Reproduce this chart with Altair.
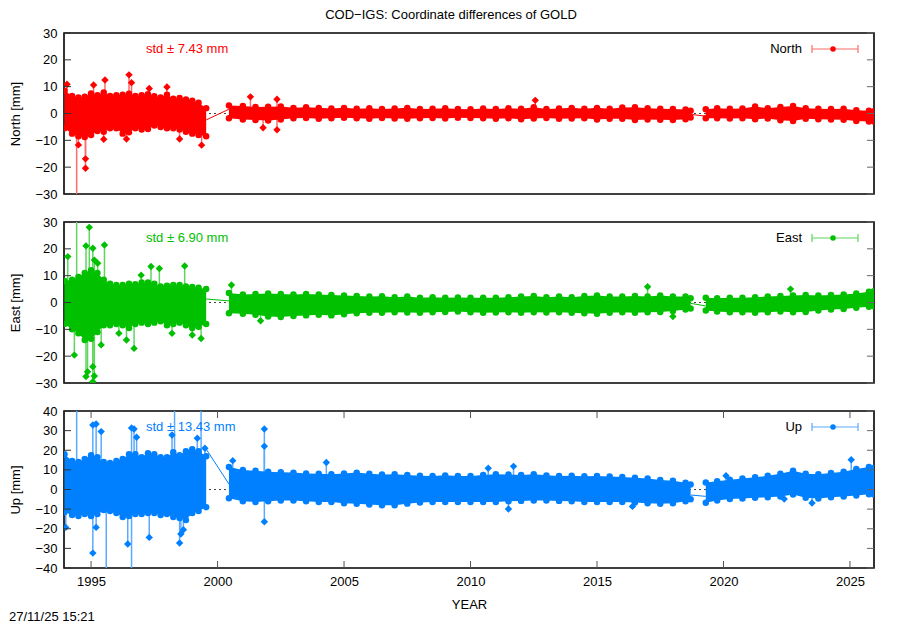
import altair as alt
import pandas as pd

FONT = "Liberation Sans"

# ---- time nodes of the dense data band (years) ----
YEARS = [1993.95, 1994.25, 1994.5, 1994.75, 1995.0, 1995.25, 1995.5, 1995.75, 1996.0, 1996.25,
         1996.5, 1996.75, 1997.0, 1997.25, 1997.5, 1997.75, 1998.0, 1998.25, 1998.5, 1998.75,
         1999.0, 1999.25, 1999.55,
         2000.45, 2001.0, 2001.5, 2002.0, 2002.5, 2003.0, 2003.5, 2004.0, 2004.5, 2005.0,
         2005.5, 2006.0, 2006.5, 2007.0, 2007.5, 2008.0, 2008.5, 2009.0, 2009.5, 2010.0,
         2010.5, 2011.0, 2011.5, 2012.0, 2012.5, 2013.0, 2013.5, 2014.0, 2014.5, 2015.0,
         2015.5, 2016.0, 2016.5, 2017.0, 2017.5, 2018.0, 2018.5, 2018.7,
         2019.3, 2019.75, 2020.25, 2020.75, 2021.25, 2021.75, 2022.25, 2022.75, 2023.25,
         2023.75, 2024.25, 2024.75, 2025.25, 2025.75, 2025.95]

# ---- North band (mm) ----
N_HI = [8.5, 6.5, 6.0, 6.2, 7.5, 6.8, 7.8, 6.5, 6.8, 7.0, 7.4, 6.5, 6.8, 7.2, 6.4, 6.0, 7.0, 5.5, 5.8, 5.2, 4.8, 4.0, 2.0,
        3.0, 2.8, 2.4, 2.5, 2.6, 2.1, 2.3, 2.1, 1.9, 2.1, 1.8, 2.0, 1.7, 1.9, 2.1, 1.7, 1.8, 2.0, 1.7, 1.6,
        1.9, 1.7, 2.0, 1.8, 2.3, 1.7, 1.9, 2.1, 1.8, 2.1, 1.8, 2.2, 2.3, 2.0, 1.8, 1.7, 1.5, 1.0,
        1.6, 2.0, 1.8, 1.9, 2.6, 2.0, 2.4, 2.8, 2.0, 1.8, 1.7, 1.8, 1.2, 1.0, 0.8]
N_LO = [-5.5, -7.5, -8.5, -8.8, -8.0, -6.5, -6.8, -5.5, -5.5, -7.5, -7.0, -5.5, -6.0, -5.8, -4.5, -5.0, -5.5, -5.5, -6.0, -6.8, -7.5, -8.0, -8.5,
        -1.8, -2.2, -2.4, -2.6, -2.2, -1.8, -1.7, -2.0, -1.8, -1.6, -1.8, -2.0, -1.7, -1.9, -2.0, -1.8, -1.7, -1.9, -1.6, -1.7,
        -1.8, -2.0, -1.8, -2.1, -1.9, -1.7, -2.0, -1.9, -1.8, -2.2, -2.0, -2.0, -2.4, -2.2, -2.3, -2.4, -2.1, -1.5,
        -1.8, -1.8, -1.9, -1.8, -2.1, -1.9, -2.5, -2.8, -2.0, -2.1, -2.2, -2.3, -2.8, -3.0, -3.0]

# ---- East band (mm) ----
E_HI = [8.0, 8.5, 9.5, 11.0, 12.0, 11.0, 8.5, 7.0, 6.5, 6.5, 7.0, 6.8, 7.5, 7.5, 7.0, 6.0, 6.2, 6.5, 6.5, 6.0, 5.8, 5.5, 5.0,
        3.5, 3.0, 3.2, 3.4, 3.2, 3.0, 3.2, 3.0, 2.8, 2.6, 2.4, 2.2, 2.3, 2.0, 2.2, 1.8, 2.0, 1.8, 1.9, 1.8,
        1.8, 1.8, 2.0, 2.2, 2.4, 2.0, 2.2, 2.0, 2.4, 2.6, 2.2, 2.2, 2.4, 2.2, 2.6, 2.2, 2.2, 1.6,
        1.8, 1.6, 1.8, 1.8, 2.0, 2.2, 2.4, 2.6, 2.8, 2.6, 2.8, 3.0, 3.4, 4.0, 4.2]
E_LO = [-8.0, -10.0, -11.5, -14.0, -13.5, -11.0, -8.5, -8.5, -8.0, -8.5, -9.5, -8.0, -7.5, -8.0, -7.5, -7.0, -8.5, -8.0, -7.5, -8.5, -9.5, -9.0, -8.0,
        -4.0, -4.2, -4.6, -5.2, -5.4, -5.0, -4.8, -4.6, -4.8, -4.4, -4.0, -3.8, -3.8, -3.6, -3.7, -3.8, -3.6, -3.5, -3.4, -3.6,
        -3.8, -3.7, -3.6, -3.8, -3.6, -3.7, -3.6, -3.8, -4.0, -4.2, -3.8, -3.6, -3.8, -3.6, -3.5, -3.2, -2.6, -2.2,
        -3.0, -3.4, -3.6, -3.6, -3.8, -3.6, -3.4, -3.6, -3.5, -3.0, -2.6, -2.4, -2.0, -1.6, -1.4]

# ---- Up band (mm) ----
U_HI = [18.0, 14.5, 14.0, 15.5, 17.5, 16.5, 14.0, 13.5, 14.5, 15.5, 18.0, 18.0, 16.5, 18.5, 18.0, 16.5, 16.5, 19.0, 17.5, 19.5, 20.5, 19.5, 17.0,
        11.5, 10.0, 9.5, 9.0, 8.8, 8.6, 8.2, 8.0, 7.8, 8.2, 8.6, 8.0, 7.6, 7.8, 7.4, 7.0, 6.9, 7.2, 6.9, 6.9,
        7.4, 7.8, 7.6, 7.4, 7.8, 7.2, 6.9, 7.0, 6.8, 6.9, 6.6, 6.4, 6.0, 5.6, 4.8, 4.4, 3.5, 2.6,
        3.6, 4.2, 5.0, 5.6, 6.2, 7.0, 8.0, 9.5, 8.0, 7.8, 8.4, 9.0, 10.5, 11.5, 11.0]
U_LO = [-11.5, -13.0, -13.5, -12.5, -13.5, -12.5, -10.5, -11.0, -12.0, -14.0, -13.5, -12.5, -12.5, -12.0, -12.0, -13.0, -12.5, -14.0, -14.5, -15.5, -12.0, -11.0, -9.0,
        -4.5, -6.0, -6.4, -6.0, -5.6, -5.6, -6.0, -6.4, -6.4, -7.0, -7.3, -7.6, -8.0, -8.0, -7.2, -6.6, -6.4, -6.4, -6.4, -6.4,
        -6.4, -6.4, -6.0, -5.8, -5.6, -5.6, -5.8, -6.0, -6.4, -6.4, -6.4, -6.4, -6.6, -7.0, -7.3, -7.0, -6.0, -5.0,
        -6.8, -5.6, -4.8, -4.6, -4.2, -4.0, -3.6, -2.6, -4.2, -4.6, -4.0, -3.6, -3.0, -2.4, -2.6]

# ---- isolated outliers (year, mm) ----
N_OUT_T = [1994.05, 1995.1, 1995.55, 1996.5, 1996.6, 1997.3, 1998.0, 1994.5, 1994.78, 1994.78,
           1996.4, 1998.5, 1999.37, 2001.3, 2002.35, 2002.35, 2001.8, 2012.56, 1994.43, 1995.5]
N_OUT_V = [10.9, 10.6, 12.5, 14.4, 11.5, 9.3, 9.9, -11.7, -20.4, -16.9,
           -9.5, -9.5, -11.8, 6.2, 5.3, -6.1, -5.3, 4.9, -45.0, -9.6]
E_OUT_T = [1994.93, 1994.8, 1995.07, 1995.53, 1994.08, 1995.13, 1995.26, 1997.37, 1997.7, 1998.7,
           1996.98, 1994.43, 1994.34, 1994.86, 1995.07, 1994.8, 1995.13, 1995.07, 1995.4, 1996.1,
           1996.4, 1996.7, 1998.2, 1999.0, 1999.35, 2000.55, 2017.0, 2022.65, 2001.7, 2018.0]
E_OUT_V = [28.0, 21.1, 20.2, 21.4, 17.1, 15.8, 14.6, 13.4, 12.7, 13.6,
           10.2, 45.0, -19.6, -25.8, -29.5, -27.6, -27.4, -23.9, -15.8, -11.5,
           -14.0, -17.1, -11.5, -12.1, -13.4, 6.5, 5.9, 5.0, -6.8, -5.2]
U_OUT_T = [1995.07, 1995.2, 1995.4, 1996.6, 1996.7, 1996.8, 1998.2, 1999.2, 1999.5, 2001.85,
           2001.85, 2001.85, 2000.6, 2004.3, 1994.43, 1998.3, 1999.35, 1995.07, 1995.6, 1996.6,
           1996.45, 1997.3, 1998.5, 1998.55, 1998.65, 1994.0, 1995.2, 2010.7, 2011.7, 2025.05,
           2011.5, 2016.4, 2020.1, 2022.4, 2023.5]
U_OUT_V = [32.9, 33.4, 29.5, 31.3, 30.8, 26.6, 27.8, 26.1, 21.0, 30.8,
           22.0, -16.4, 14.7, 13.8, 50.0, 50.0, 50.0, -32.4, -50.0, -50.0,
           -27.8, -24.4, -27.3, -22.7, -20.5, -19.3, -19.3, 10.8, 11.8, 15.2,
           -9.9, -8.6, 7.0, -4.8, -6.9]

# ---- connections across the data gaps ----
GAP_T = [1999.55, 2000.45, 2018.7, 2019.3]
N_GAP = [-2.4, 1.6, -0.3, -1.0]
E_GAP = [1.3, 0.6, -0.3, -1.3]
U_GAP = [20.6, 2.8, -2.8, -3.5]

X_TICKS = [1995, 2000, 2005, 2010, 2015, 2020, 2025]
NE_TICKS = [-30, -20, -10, 0, 10, 20, 30]
U_TICKS = [-40, -30, -20, -10, 0, 10, 20, 30, 40]

W = 810
XDOM = [1993.93, 2025.95]


def seg_of(t):
    return 0 if t < 2000 else (1 if t < 2019 else 2)


def panel(name, hi, lo, out_t, out_v, gap_v, color, light, ydom, yticks, height,
          std_text, show_x, title=None, date=None):
    xs = alt.Scale(domain=XDOM, nice=False, zero=False)
    ys = alt.Scale(domain=ydom, nice=False, zero=False)
    band = pd.DataFrame({"t": YEARS, "hi": hi, "lo": lo,
                         "seg": [seg_of(t) for t in YEARS]})
    edge = pd.DataFrame({"t": YEARS + YEARS, "v": hi + lo})
    outs = pd.DataFrame({"t": out_t, "v": out_v, "z": [0.0] * len(out_t)})
    gaps = pd.DataFrame({"t": GAP_T, "v": gap_v, "g": [0, 0, 1, 1]})
    yt = pd.DataFrame({"v": yticks})
    one = pd.DataFrame({"a": [0]})

    if show_x:
        xaxis = alt.Axis(values=X_TICKS, format="d", ticks=False, domain=False, grid=False,
                         labelFont=FONT, labelFontSize=13, labelColor="black", labelPadding=7,
                         title="YEAR", titleFont=FONT, titleFontSize=13, titleFontWeight="normal",
                         titleColor="black", titleX=W / 2, titleY=36, titleBaseline="middle",
                         titleAlign="center")
    else:
        xaxis = alt.Axis(values=X_TICKS, ticks=False, domain=False, grid=False,
                         labels=False, title=None)
    yaxis = alt.Axis(values=yticks, format="d", ticks=False, domain=False, grid=False,
                     labelFont=FONT, labelFontSize=13, labelColor="black", labelPadding=7,
                     title=name + " [mm]", titleFont=FONT, titleFontSize=13,
                     titleFontWeight="normal", titleColor="black", titleX=-42,
                     titleY=height / 2, titleAngle=270, titleAlign="center",
                     titleBaseline="bottom")

    def X(f):
        return alt.X(f, type="quantitative", scale=xs, axis=xaxis)

    def Y(f):
        return alt.Y(f, type="quantitative", scale=ys, axis=yaxis)

    zero = alt.Chart(pd.DataFrame({"t": [XDOM[0]], "t2": [XDOM[1]], "y": [0]})).mark_rule(
        color="#444444", strokeDash=[2, 3], strokeWidth=1
    ).encode(x=X("t"), x2="t2:Q", y=Y("y"))

    gapline = alt.Chart(gaps).mark_line(color=color, strokeWidth=1, clip=True).encode(
        x=X("t"), y=Y("v"), detail="g:N")

    spikes = alt.Chart(outs).mark_rule(color=light, strokeWidth=1.5, clip=True).encode(
        x=X("t"), y=Y("z"), y2="v:Q")

    area = alt.Chart(band).mark_area(color=color, opacity=1, clip=True).encode(
        x=X("t"), y=Y("lo"), y2="hi:Q", detail="seg:N")

    edgepts = alt.Chart(edge).mark_point(shape="circle", filled=True, size=42, opacity=1,
                                         color=color, clip=True).encode(
        x=X("t"), y=Y("v"))

    outpts = alt.Chart(outs).mark_point(shape="diamond", filled=True, size=55, opacity=1,
                                        color=color, clip=True).encode(
        x=X("t"), y=Y("v"))

    tick_l = alt.Chart(yt).mark_rule(color="#333333", strokeWidth=1).encode(
        x=alt.value(0), x2=alt.value(7), y=Y("v"))
    tick_r = alt.Chart(yt).mark_rule(color="#666666", strokeWidth=1).encode(
        x=alt.value(W - 7), x2=alt.value(W), y=Y("v"))

    layers = [zero, gapline, spikes, area, edgepts, outpts, tick_l, tick_r]

    if show_x:
        xt = pd.DataFrame({"t": X_TICKS})
        layers.append(alt.Chart(xt).mark_rule(color="#555555", strokeWidth=1).encode(
            x=X("t"), y=alt.value(height - 7), y2=alt.value(height)))
        layers.append(alt.Chart(xt).mark_rule(color="#555555", strokeWidth=1).encode(
            x=X("t"), y=alt.value(0), y2=alt.value(7)))

    # std annotation
    layers.append(alt.Chart(one).mark_text(align="left", baseline="middle", font=FONT,
                                           fontSize=13, color=color).encode(
        x=alt.value(82), y=alt.value(16), text=alt.value(std_text)))
    # key (gnuplot style)
    layers.append(alt.Chart(one).mark_text(align="right", baseline="middle", font=FONT,
                                           fontSize=13, color="black").encode(
        x=alt.value(738), y=alt.value(16), text=alt.value(name)))
    layers.append(alt.Chart(one).mark_rule(color=light, strokeWidth=1.2).encode(
        x=alt.value(748), x2=alt.value(794), y=alt.value(16)))
    layers.append(alt.Chart(one).mark_rule(color=light, strokeWidth=1.2).encode(
        x=alt.value(748), y=alt.value(12), y2=alt.value(20)))
    layers.append(alt.Chart(one).mark_rule(color=light, strokeWidth=1.2).encode(
        x=alt.value(794), y=alt.value(12), y2=alt.value(20)))
    layers.append(alt.Chart(one).mark_point(shape="circle", filled=True, size=30, opacity=1,
                                            color=color).encode(
        x=alt.value(769), y=alt.value(16)))

    if title is not None:
        layers.append(alt.Chart(one).mark_text(align="center", baseline="top", font=FONT,
                                               fontSize=13, color="black").encode(
            x=alt.value(387), y=alt.value(-24), text=alt.value(title)))
    if date is not None:
        layers.append(alt.Chart(one).mark_text(align="left", baseline="middle", font=FONT,
                                               fontSize=13, color="black").encode(
            x=alt.value(-55), y=alt.value(height + 49), text=alt.value(date)))

    return alt.layer(*layers).properties(width=W, height=height)


north = panel("North", N_HI, N_LO, N_OUT_T, N_OUT_V, N_GAP, "#ff0000", "#ff6a6a",
              [-30, 30], NE_TICKS, 161, "std \u00b1 7.43 mm", False,
              title="COD\u2212IGS: Coordinate differences of GOLD")
east = panel("East", E_HI, E_LO, E_OUT_T, E_OUT_V, E_GAP, "#00c000", "#5ed65e",
             [-30, 30], NE_TICKS, 161, "std \u00b1 6.90 mm", False)
up = panel("Up", U_HI, U_LO, U_OUT_T, U_OUT_V, U_GAP, "#0080ff", "#5aaaff",
           [-40, 40], U_TICKS, 157, "std \u00b1 13.43 mm", True, date="27/11/25 15:21")

chart = alt.vconcat(north, east, up, spacing=13).properties(
    padding={"left": 0, "top": 0, "right": 0, "bottom": 0}
).configure(background="white").configure_view(stroke="black", strokeWidth=1.6)

chart.save("out.html", embed_options={"renderer": "svg", "actions": False})
